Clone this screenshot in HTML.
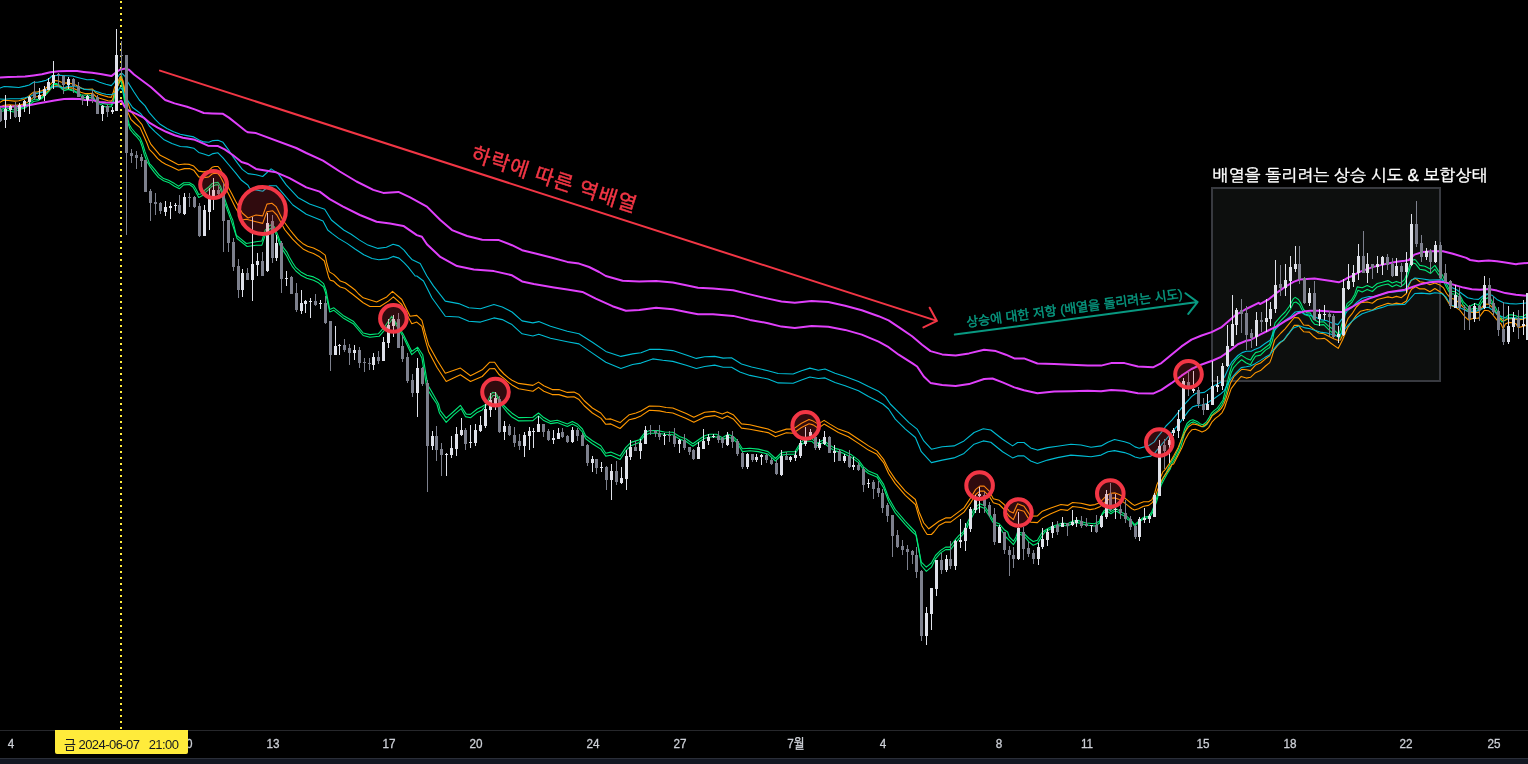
<!DOCTYPE html>
<html lang="ko"><head><meta charset="utf-8"><title>chart</title>
<style>
html,body{margin:0;padding:0;background:#000;}
body{width:1528px;height:764px;overflow:hidden;position:relative;font-family:"Liberation Sans","Noto Sans CJK KR",sans-serif;}
#chart{position:absolute;left:0;top:0;width:1528px;height:764px;display:block;}
.w{fill:#dfe1e9}.g{fill:#7d808d}
.ln{fill:none;stroke-linejoin:round;stroke-linecap:round;}
.circ{fill:rgba(242,54,69,.2);stroke:#f23645;stroke-width:4;}
#axis{position:absolute;left:0;top:730px;width:1528px;height:28px;border-top:1px solid #26272b;box-sizing:border-box;}
#axis span{position:absolute;top:5.5px;width:60px;margin-left:-30px;text-align:center;color:#cdd0d7;font-size:13px;line-height:14px;white-space:nowrap;transform:scaleX(0.9);-webkit-text-stroke:0.3px #cdd0d7;}
#tag{position:absolute;left:55px;top:730px;width:133px;height:24px;background:#ffeb3b;border-radius:0 0 2px 2px;color:#131722;font-size:13px;line-height:14px;white-space:pre;}
#tag b{position:absolute;left:9px;top:7.5px;font-weight:normal;letter-spacing:-0.55px;}
#foot{position:absolute;left:0;top:758px;width:1528px;height:6px;background:#131722;border-top:1px solid #2a2e39;box-sizing:border-box;}
</style></head><body>
<svg id="chart" width="1528" height="764" viewBox="0 0 1528 764">
<rect width="1528" height="764" fill="#000"/>
<rect x="1212" y="188" width="228" height="193" fill="rgba(130,145,140,0.1)" stroke="#383a40" stroke-width="2"/>
<line x1="121" y1="0" x2="121" y2="730" stroke="#ffeb3b" stroke-width="2" stroke-dasharray="2 4" stroke-dashoffset="-1"/>
<path class="ln" d="M0 111.7 L6.7 110 L13.4 112 L20.1 109.2 L25.1 108 L28.5 105.3 L31.4 103.2 L33.5 101.5 L37.7 100.7 L41.9 98.6 L44 96.1 L46.9 93.6 L49.8 90.2 L51.9 86.9 L54 84.4 L56.5 84.4 L59.5 86.5 L62 89 L64 90.7 L68.2 89.4 L72.4 90.7 L76.6 92.8 L80.8 96.1 L84.9 97.8 L89.1 97.4 L93.3 98.2 L95.8 102 L98.3 103.2 L101.7 104.9 L103.8 106.2 L105.9 107 L111.3 106.6 L113 103.2 L114.3 97.8 L115.9 89.8 L118.9 83.5 L121 79.8 L122.3 87.8 L124.8 102.9 L128 123.5 L130.1 129.3 L133.4 133.5 L136.8 136.9 L140.1 141 L142.2 146.9 L144.3 154.5 L146.8 161.2 L148.5 164 L150.2 166.9 L154.3 172.3 L158.5 177.4 L163.6 180.7 L168.6 182.4 L174.5 186.2 L179.5 188.7 L183.7 184.9 L189.5 184.5 L192.9 187 L195.4 191.2 L198.7 197.5 L202.1 195.8 L205.4 192.4 L208.8 189.5 L212.1 186.2 L215.5 184.9 L218 184.9 L220.5 189.5 L222.6 195.4 L224.7 202.9 L228.1 212.1 L230.8 219.4 L237.1 238.5 L247.1 246.5 L256 245.2 L261.9 245.2 L265.2 235.1 L270.2 228.4 L274.4 230.1 L277.8 238.5 L280 245.1 L283.4 250.9 L286.7 256 L289.2 261 L292.6 266.9 L295.9 271 L300.9 275.2 L306.8 278.2 L313.5 280.3 L318.5 282.8 L323.6 287 L325.4 292.2 L329.7 312 L333.9 310.3 L343.1 317.9 L353.2 323.7 L363.2 335.5 L369.9 337.2 L379.1 336.3 L385 329.6 L392.5 318.7 L398.4 328.8 L403.4 337.2 L411.8 354.7 L417.7 349.7 L421.9 358.1 L424.4 373.2 L426.9 388.3 L431.9 396.6 L436.9 404 L439.5 413.2 L446.2 422.4 L453.7 414.9 L461.2 408.7 L465.4 416.6 L470.5 417.7 L477.2 412.4 L482.2 409.9 L487.2 404 L490.6 399.1 L493.1 395.3 L496.4 395.8 L498.9 400.8 L500.6 404 L507.3 412.4 L512 417.1 L518.7 420.9 L532.9 420.6 L538.5 415.9 L543.8 420.6 L550.5 423.6 L557.2 422.6 L567.3 426.5 L572.3 423.9 L577.3 426.5 L582.4 432 L585.7 438.7 L592.4 443.7 L600.8 449.1 L605.8 456.1 L610.8 455.3 L620.1 459.5 L625.9 450.7 L631 445.7 L639.3 442.4 L644.4 435.7 L649.4 433.2 L657.8 433.2 L664.5 434.3 L672.8 434.8 L679.5 439 L686.2 441.5 L692.9 446.2 L699.6 441.5 L704.7 438.2 L709.7 437 L716.4 437 L722.3 439.9 L728.1 437 L733.2 439 L737.3 443.2 L742.4 451.6 L749.9 450.7 L758.3 451.6 L768 454.1 L775.5 461 L781.4 455.1 L788.1 454.3 L794.8 454.3 L800.7 445 L806.5 441.2 L811.6 441.2 L816.6 445.9 L823.3 442.5 L828.3 446.7 L835 450.9 L841.7 452.6 L851.8 457.6 L858.5 462.6 L863.5 469.3 L868.5 473.5 L876.9 476.9 L883.6 487.8 L888.6 501.2 L895.3 512.9 L905.4 524.6 L912.5 532 L916.3 535.4 L918.8 548.8 L921.3 565.5 L926.3 571.4 L931.4 567.2 L935.5 558.8 L940.6 552.9 L945.6 549.6 L950.6 549.6 L954.8 543.7 L959.8 537.9 L964.9 532 L969.9 521.3 L974.9 511.2 L979.9 506.5 L984.1 508.2 L989.2 515.9 L994.2 524.6 L999.2 526.3 L1002.6 532 L1005.9 537 L1009.3 540.4 L1013.4 544.6 L1016 540.4 L1018.5 533.7 L1024 536 L1029 541.9 L1033.2 545.2 L1037.4 543.6 L1042.4 535.5 L1044.9 532 L1049.1 529.7 L1053.3 527.6 L1062.5 525 L1067.6 526 L1072.6 523.3 L1077.6 522.6 L1086 525 L1094.4 526 L1099.4 523.3 L1100.9 517.2 L1103.4 513 L1106.8 510.9 L1110.9 513.8 L1115.1 510.9 L1117.6 511.7 L1121 514.2 L1124.3 515.9 L1126.9 518.8 L1128.5 520 L1131.2 521.3 L1134.6 526.3 L1139.6 521.6 L1141.9 520 L1144.5 518.4 L1149.5 517.6 L1152.8 512.1 L1155.3 505.4 L1157 500.4 L1158.7 493.7 L1161.2 485.3 L1163.7 480.3 L1167.1 474 L1170.4 468.6 L1171.9 464 L1176.1 457 L1180.3 448.6 L1182.8 439.4 L1185.3 431 L1187.8 425.5 L1191.2 422.6 L1193.7 421.9 L1197.9 423.9 L1201.2 426.4 L1203.7 426.8 L1207.1 424.3 L1209.6 420.1 L1212.1 415.1 L1214.6 412.6 L1218 410.1 L1220.5 406.7 L1222.1 404.2 L1224 400.4 L1226.2 393.6 L1229.5 379.4 L1231.2 372.7 L1233.7 367.6 L1237.9 363 L1241.7 359.7 L1246.3 363 L1250.5 364.7 L1253 360.1 L1255.5 356.3 L1260.5 355.1 L1265.5 350.1 L1269.7 347.5 L1272.4 340.8 L1274.2 331.3 L1276.8 325.4 L1281.8 319.6 L1286 315.4 L1290.2 309.5 L1293.5 302.8 L1296 302 L1299.4 304.5 L1301.9 309.5 L1304.4 314.5 L1309.4 316.2 L1311.9 321.2 L1314.5 324.2 L1318.6 325 L1323.7 324.6 L1328.7 329.6 L1333.7 333.8 L1337.1 336.3 L1339.6 338 L1341.7 331.3 L1343.8 322.9 L1346.3 307.8 L1348.8 305.3 L1352.1 302 L1355.5 296.1 L1358 290.2 L1362.2 291.9 L1367.2 289.4 L1372.3 291.5 L1377.3 286.9 L1382.3 285.2 L1388 284 L1392.2 286.8 L1396.4 284.7 L1400.6 286.8 L1404.8 283.5 L1408.1 274.2 L1410.6 266.7 L1413.1 262.9 L1415.6 263.8 L1419.8 269.2 L1424.9 270.1 L1430.7 273.4 L1434.9 269.2 L1438.3 274.2 L1442.5 279.3 L1446.6 287.6 L1450 293.5 L1455 294.3 L1460 297.7 L1463.4 305.2 L1468.4 310.3 L1471.8 309 L1475.1 307.7 L1478.5 309.4 L1481 303.6 L1484.3 299.4 L1487.7 297.7 L1491 302.7 L1495.2 310.3 L1498.6 317 L1501.9 322 L1505.3 320.3 L1508.6 317.8 L1512 317.8 L1516 318.6 L1518.3 319.9 L1523.3 318.7 L1528 316.2" stroke="#00e676" stroke-width="1.1"/>
<path class="ln" d="M0 109.6 L6.7 107.9 L13.4 110 L20.1 107.1 L23.5 108 L26 105.3 L29.3 103.2 L31.8 100.7 L34.3 99 L37.7 99.5 L39.8 98.6 L42.7 96.5 L46.1 93.6 L49 90.2 L51.5 86.1 L53.6 83.5 L56.5 83.5 L59.5 85.2 L62 87.7 L64 89 L66.5 88.8 L70.3 89.4 L74.5 90.7 L77.8 92.8 L80.8 94.8 L84.1 95.3 L87.5 94.8 L91.2 95.7 L93.3 96.9 L95.8 101.1 L99.6 102.4 L103.8 103.6 L108 104.5 L111.3 104.9 L112.6 102.8 L113.8 96.9 L115.5 88.6 L118.5 82.3 L120.5 78.5 L121.8 76 L124.8 99.6 L128 119.3 L129.2 124.3 L131.7 128.5 L135.9 133.5 L140.1 137.7 L142.6 143.6 L145.1 151.9 L147.6 158.6 L149.7 164 L151 165.2 L155.2 170.2 L159.4 175.3 L163.6 178.6 L168.6 180.3 L174.5 183.6 L178.6 186.2 L183.7 182.8 L189.5 182.8 L193.7 185.3 L196.2 189.5 L198.7 194.5 L201.3 193.7 L204.6 190.3 L208.8 187 L212.1 183.6 L214.7 182.8 L218 182.4 L220.5 186.2 L223 192.9 L225.5 201.2 L228.9 210.5 L231.4 217.2 L232.7 220 L236.2 235.1 L246.3 243.5 L256 241.8 L261.9 241 L265.2 230.1 L270.2 225.1 L274.4 226.7 L277.8 235.1 L280 240.9 L283.4 247.6 L286.7 251.8 L289.2 256.8 L292.6 262.7 L295.9 267.7 L300.9 271.9 L306.8 275.2 L313.5 276.9 L318.5 279.4 L323.6 283.6 L326.1 290.5 L329.7 309.5 L333.9 307.8 L343.1 315.4 L353.2 321.2 L363.2 333 L369.9 334.6 L378.3 333.8 L385 326.3 L391.7 316.2 L398.4 326.3 L403.4 334.6 L411.8 351.4 L417.7 347.2 L422.7 354.7 L425.2 369.8 L427.7 384.9 L433.6 395 L438.6 404 L440.3 410.7 L446.2 418.2 L453.7 411.5 L460.4 405.3 L466.3 414.1 L470.5 414.4 L477.2 409 L482.2 406.5 L486.4 404 L489.7 396.6 L492.6 392.4 L495.6 392.9 L498.9 398.3 L502.3 404 L507.3 409 L512 413.2 L518.7 417.6 L532.9 417.2 L538.5 413 L543.8 417.6 L550.5 421.4 L557.2 420.3 L567.3 423.9 L572.3 421.4 L577.3 423.9 L582.4 429 L585.7 435.7 L592.4 440.7 L600.8 445.7 L605.8 453.3 L610.8 452.1 L620.1 456.1 L625.9 447.4 L631 442.4 L639.3 439.9 L644.4 433.2 L649.4 430.6 L657.8 430.6 L664.5 432 L672.8 432.3 L679.5 436.5 L686.2 439 L692.9 443.7 L699.6 439 L704.7 435.7 L709.7 434.3 L716.4 434.3 L722.3 437.7 L728.1 434.3 L733.2 436.5 L737.3 440.7 L742.4 448.7 L749.9 448.2 L758.3 449.1 L768 451.6 L775.5 458.5 L781.4 452.6 L788.1 451.7 L794.8 451.7 L800.7 442.5 L806.5 438.3 L811.6 438.3 L816.6 443.4 L823.3 440 L828.3 444.2 L835 448.4 L841.7 450.1 L851.8 455.1 L858.5 460.1 L863.5 466.8 L868.5 471 L876.9 474.4 L883.6 484.4 L888.6 497.8 L895.3 509.5 L905.4 521.3 L915.4 532 L917.9 545.4 L921.3 562.2 L926.3 567.2 L931.4 563 L935.5 555.5 L940.6 550.4 L945.6 547.1 L949.8 547.1 L954 541.2 L959 535.4 L963.2 532 L969 519.6 L974.1 508.7 L979.9 503.7 L984.1 505.4 L989.2 512.9 L994.2 522.1 L999.2 523.8 L1004.2 529.7 L1007.6 532 L1009.3 537 L1013.4 541.2 L1016 537 L1017.6 532 L1024 533.5 L1029 538.5 L1033.2 541.5 L1037.4 540.2 L1042.4 532 L1047.5 528.8 L1052.5 526.3 L1062.5 523 L1067.6 523.8 L1072.6 521.3 L1077.6 520.4 L1086 523 L1094.4 523.8 L1099.4 521.3 L1101.7 514.6 L1104.2 510.5 L1107.6 508.8 L1110.9 511.7 L1115.1 508.8 L1117.6 509.6 L1121 512.1 L1124.3 513.8 L1127.7 517.2 L1130.7 519.8 L1134.6 524.6 L1140.3 520 L1143.6 517.2 L1148.6 516.3 L1152 511.3 L1154.5 504.6 L1156.2 499.6 L1157.9 492.9 L1160.4 484.5 L1162.9 478.6 L1166.2 472.8 L1170.2 464 L1174.4 457 L1178.6 448.6 L1181.9 437.7 L1184.5 429.3 L1187 423.5 L1190.3 420.5 L1192.8 419.7 L1197 421.4 L1200.4 423.9 L1202.9 424.7 L1206.2 422.2 L1208.7 418.4 L1211.3 413.4 L1213.8 410.9 L1217.1 408.4 L1219.6 405 L1221.3 402.5 L1223 400 L1224.5 393.6 L1227.8 380.2 L1229.5 373.5 L1232 365.1 L1236.2 359.3 L1241.2 355.1 L1246.3 358.4 L1250.5 360.1 L1253 355.9 L1255.5 352.6 L1260.5 351.3 L1264.7 348 L1269.7 344.2 L1272 335.6 L1275.1 322.9 L1280.9 316.2 L1285.1 312 L1289.3 306.2 L1293.5 298.6 L1295.2 297.4 L1298.5 299.5 L1301 303.6 L1303.6 309.5 L1306.9 312.9 L1310.3 312.9 L1313.6 319.6 L1318.6 322.1 L1323.7 321.7 L1328.7 326.3 L1333.7 329.6 L1337.1 333 L1338.7 334.6 L1340.4 329.6 L1342.1 322.9 L1344.6 311.2 L1347.1 303.6 L1351.3 300.3 L1354.7 294.4 L1357.2 286.9 L1362.2 287.7 L1367.2 285.6 L1372.3 287.7 L1377.3 283.5 L1382.3 282.3 L1388 280.6 L1392.2 283 L1396.4 281.4 L1400.6 283 L1404.8 279.3 L1408.1 270.1 L1410.6 262.5 L1413.1 260 L1414.4 259.6 L1415.6 260 L1419.8 265.4 L1424.9 266.3 L1430.7 269.2 L1434.9 265.4 L1438.3 270.9 L1442.5 275.1 L1446.6 284.3 L1450 291 L1455 291.8 L1460 295.2 L1463.4 301.9 L1468.4 306.9 L1471.8 305.2 L1475.1 303.6 L1478.5 305.2 L1481 300.2 L1484.3 296 L1487.7 294.3 L1491 299.4 L1495.2 306.9 L1498.6 313.6 L1501.9 318.6 L1505.3 317.8 L1508.6 314.9 L1512 314.9 L1516 315.7 L1518.3 317 L1523.3 316.2 L1528 312.9" stroke="#00e676" stroke-width="1.1"/>
<path class="ln" d="M0 107 L4.2 105.3 L9.6 104.9 L14.7 105.3 L20.9 104.9 L24.3 103.6 L27.2 102.4 L29.3 101.1 L31.8 98.6 L34.3 96.9 L37.7 96.5 L41.9 95.3 L45.2 93.2 L48.2 90.7 L51.1 88.1 L53.6 86.3 L56.5 85.8 L60.7 86.7 L64 88.1 L68.2 87.5 L72.4 88.1 L76.6 89.8 L80.8 92.3 L84.9 93.6 L89.1 93.6 L92.5 93.2 L95.8 96.5 L99.6 98.2 L103.8 99.5 L108 100.7 L111.3 101.1 L112.6 99.5 L113.8 95.3 L115.1 90.7 L118.5 84.4 L121 78.1 L123.1 83.2 L124.8 91.6 L128 112.6 L130.9 119.3 L135.1 123.5 L140.1 127.6 L143.5 135.2 L146.8 142.7 L149.3 149.4 L153.5 153.6 L157.7 158.6 L161.9 162 L165.7 164.2 L171.9 166.9 L178.6 170.2 L184.5 168.6 L189.5 168.6 L193.7 170.2 L198.7 176.9 L203.8 177.8 L208.8 176.9 L212.1 174 L214.7 173.2 L218 173.6 L220.5 176.9 L223.9 183.6 L227.2 191.2 L231.4 199.6 L235.6 207.9 L239 213.8 L241.5 220 L246.3 219.2 L256 221.7 L262.7 223.4 L266.9 211.7 L272.8 210.8 L276.9 215 L283.6 227.6 L285 230 L288.4 234.2 L292.6 239.2 L297.6 244.2 L303.5 249.3 L308.5 251.8 L313.5 253.5 L319.4 256.8 L324.4 261 L326.1 267.7 L328.6 276.9 L330.3 280.3 L333.6 281.1 L337 284.5 L340.3 287 L345.3 288.6 L349.5 292 L352.6 294.2 L363.2 302.8 L369.9 306.5 L380 306.5 L388.4 301.1 L393.4 296.9 L401.8 304.5 L406.8 314.5 L411.8 323.7 L416.8 322.1 L421.9 326.3 L425.2 339.7 L428.6 351.4 L436.9 367.3 L446.2 381.5 L460.4 374.8 L470.5 381.5 L482.2 376.5 L489.5 368.8 L494.6 368.5 L499.3 374.8 L504 378.4 L508.6 382.4 L512 384.9 L518.7 388.8 L532.9 391.3 L538.5 387.4 L543.8 391.3 L552.2 394.6 L558.9 394.6 L567.3 397.1 L574 396.8 L579 399.6 L584 405.5 L592.4 413 L600.8 418.1 L605.8 424.3 L610.8 423.9 L620.1 428.5 L629.3 419.7 L636 418.1 L641 415.9 L649.4 410.2 L659.4 410.9 L666.1 412.2 L672.8 413 L686.2 418.6 L693.8 422.3 L704.7 416.9 L714.7 415.6 L722.3 418.6 L727.3 415.9 L733.2 418.9 L741.5 428.1 L749.9 429.3 L768 432.6 L775.5 436.7 L786.4 432.8 L793.1 433.3 L801.5 427.5 L809 423.8 L813.2 424.9 L818.3 428.3 L824.1 424.1 L830 427.5 L838.4 432.5 L848.4 436.7 L858.5 443.4 L868.5 450.1 L876.9 454.3 L883.6 462.6 L888.6 473.5 L895.3 483.6 L905.4 495.3 L915.4 504.5 L918.8 516.3 L922.1 526.3 L925.5 532 L927.2 534.5 L931.4 534.5 L933.9 532 L938.9 525.5 L945.6 522.1 L950.6 522.1 L957.3 517.1 L964 512.1 L970.7 502.8 L975.7 494.5 L979.9 491.1 L984.1 491.1 L989.2 496.1 L993.3 502.8 L999.2 504.5 L1004.2 509.5 L1009.3 516.3 L1013.4 519.6 L1017.6 509.5 L1024 511.2 L1030.7 522.1 L1037.4 522.6 L1042.4 517.9 L1050.8 513.7 L1060.9 509.5 L1067.6 510.4 L1072.6 506.5 L1081 507.5 L1090 509.6 L1095 508.8 L1099.2 507.1 L1102.6 504.6 L1106.8 500.4 L1110.9 498.3 L1115.1 497.9 L1119.3 499.6 L1123.5 502.1 L1127.7 505.4 L1131.9 508.8 L1134.4 510 L1138.6 508.8 L1143.6 506.3 L1148.6 505.4 L1152 502.9 L1154.5 498.7 L1157 491.2 L1159.5 485.3 L1162 479.5 L1165.4 474.4 L1168.7 469.4 L1172.1 464.4 L1173.6 464 L1177.7 456.1 L1181.9 447.7 L1185.3 439.4 L1188.6 433.5 L1192 429.7 L1195.3 429.3 L1198.7 430.6 L1202 432 L1205.4 430.6 L1208.7 427.6 L1212.1 421.8 L1215.4 418.4 L1218.8 415.9 L1222.1 412.6 L1224.7 407.5 L1226.3 402.5 L1228.1 397.6 L1231.2 388.6 L1236.2 381.9 L1241.2 376.4 L1246.3 378.1 L1250.5 377.3 L1255.5 372.7 L1260.5 370.6 L1265.5 366 L1269.7 362.6 L1271.4 358.4 L1273.9 350.1 L1277.3 345.9 L1281.4 341.7 L1284 340 L1289.3 333 L1294.3 325.4 L1298.5 325.4 L1301 328.8 L1303.6 331.7 L1309.4 332.1 L1313.6 336.3 L1317 338.8 L1320.3 338.8 L1324.5 338.4 L1327 340 L1330.6 343 L1338.2 348.4 L1342.5 340 L1345.4 333 L1348 327.1 L1352.1 321.2 L1356.3 315.4 L1360.5 311.2 L1367.2 309.5 L1372.3 310.3 L1377.3 307 L1382.3 305.3 L1388 303.2 L1392.2 304.4 L1396.4 303.1 L1401.4 304 L1406.4 301 L1408.9 294.3 L1411.5 289.3 L1415.6 286.8 L1419.8 288.9 L1424.9 288.9 L1429.9 291.8 L1434.9 288.5 L1439.9 291.8 L1443.3 294.3 L1446.6 299.4 L1450 305.2 L1455 306.9 L1460 310.3 L1465.1 317 L1468.4 319.9 L1473.4 318.2 L1478.5 318.2 L1481.8 313.6 L1484.3 310.3 L1488.5 310.7 L1491.9 313.6 L1495.2 317.8 L1498.6 322 L1501.1 324 L1503.2 328.8 L1505.3 324 L1508.6 322.4 L1512 322.8 L1516 323.7 L1518.3 327.6 L1523.3 326.3 L1528 324.6" stroke="#ff9800" stroke-width="1.1"/>
<path class="ln" d="M0 102.4 L3.4 100.3 L8.4 100.5 L14.7 101.1 L18.8 100.7 L23.5 99.5 L27.2 97.4 L30.2 94.8 L33.5 92.1 L37.7 91.9 L41.9 90.7 L45.2 88.6 L47.7 86.5 L50.3 84.4 L52.4 82.3 L55.3 80.6 L58.6 81 L61.6 82.3 L64 83.1 L66.5 82.9 L71.1 83.5 L75.7 85 L80.8 87.7 L84.9 89.4 L89.1 89.4 L92.5 89 L95.8 92.8 L99.6 94.4 L103.8 95.7 L108 96.9 L111.3 97.4 L113.1 92.8 L114.7 86.9 L118.5 80.2 L120.5 76 L123.1 81.1 L124.8 89.5 L128.4 104.2 L130.9 111.7 L136.8 118.4 L141.8 124.3 L145.1 131.8 L148.5 139.4 L151 144.4 L156 150.3 L160.2 155.3 L165.2 157.8 L171.9 161.2 L177 164 L178.6 164.8 L184.5 164 L189.5 164.4 L193.7 166.1 L198.7 171.1 L203.8 171.9 L208.8 170.7 L212.1 167.3 L214.7 166.5 L218 166.5 L220.5 169.4 L223.9 176.9 L227.2 185.3 L231.4 192.9 L235.6 201.2 L239 207.1 L242.3 213 L248 218 L256 215 L262.7 215.9 L266.9 204.1 L271.9 203.3 L276.1 206.6 L282.8 220 L290.1 230 L293.4 234.2 L297.6 239.2 L302.6 243.4 L307.6 246.3 L313.5 248 L319.4 250.9 L325.2 255.1 L326.9 263.5 L329.4 271.9 L333.6 274.4 L337 277.7 L340.3 281.1 L345.3 282.8 L351.2 287 L355.4 290.3 L358.7 294 L363.2 297.8 L376.6 302 L386.7 296.9 L392.5 291.4 L401.8 299.5 L410.1 316.2 L416.8 315.4 L421.9 320.4 L425.2 333 L428.6 344.7 L436.9 359.8 L445.3 373.2 L460.4 368.1 L470.5 375.7 L482.2 369.8 L489.5 362.3 L494.6 362.3 L499.3 369 L504 374 L508.6 377.9 L512 380.2 L518.7 383.4 L532.9 385.4 L538.5 382.1 L543.8 385.7 L552.2 389.6 L558.9 389.6 L567.3 392.4 L574 392.1 L579 394.6 L584 400.5 L592.4 408 L600.8 413 L605.8 419.2 L610.8 418.9 L620.1 422.6 L629.3 414.7 L636 413 L641 410.9 L649.4 406 L659.4 406.3 L666.1 407.5 L672.8 408 L686.2 413.5 L693.8 417.2 L704.7 412.2 L714.7 411.4 L722.3 413.9 L727.3 411.9 L733.2 414.7 L741.5 423.9 L749.9 424.8 L768 429 L775.5 432.5 L786.4 429.1 L793.1 429.1 L801.5 423.3 L809 419.4 L813.2 421.1 L818.3 424.1 L824.1 420.4 L830 424.1 L838.4 429.1 L848.4 432.5 L858.5 439.2 L868.5 445.9 L876.9 450.9 L883.6 459.3 L888.6 469.3 L895.3 479.4 L905.4 491.1 L915.4 499.5 L918.8 511.2 L923.8 523 L928.8 528.8 L932.2 526.3 L938.9 521.3 L945.6 517.9 L950.6 517.9 L957.3 512.9 L964 507.9 L970.7 497.8 L975.7 489.4 L979.9 486.1 L984.1 486.1 L989.2 491.1 L993.3 498.7 L999.2 500.3 L1004.2 504.5 L1009.3 511.2 L1013.4 512.9 L1017.6 503.7 L1024 506.2 L1030.7 516.3 L1037.4 515.9 L1042.4 511.2 L1050.8 507.9 L1060.9 504.5 L1067.6 505.4 L1072.6 502.5 L1081 503.2 L1090 505.4 L1095 504.6 L1099.2 502.9 L1102.6 499.6 L1106.8 495.4 L1110.9 493.3 L1115.1 492.9 L1119.3 494.5 L1123.5 497 L1127.7 500.4 L1131.9 503.7 L1134.4 505.4 L1138.6 503.7 L1143.6 501.7 L1148.6 501.7 L1152 499.6 L1154.5 493.7 L1157 484.5 L1160.4 477.8 L1162.9 471.9 L1165.4 469.4 L1169 464 L1173.6 456.1 L1177.7 448.6 L1181.1 440.2 L1184.5 432.7 L1188.6 426.8 L1192.8 423.9 L1197 424.7 L1202 426.8 L1206.2 424.3 L1209.6 420.1 L1212.1 415.9 L1215.4 413.4 L1218.8 410.9 L1221.3 408.4 L1223.8 404.2 L1225.5 400 L1227 395.3 L1230.3 383.6 L1233.7 376.9 L1237.9 372.7 L1241.7 369.3 L1246.3 369.7 L1250.5 370.6 L1255.5 365.1 L1260.5 363 L1265.5 358.8 L1269.7 355.9 L1272.2 349.2 L1274.7 340 L1280.9 333 L1285.1 328.8 L1289.3 323.7 L1294.3 317.5 L1298.5 317.9 L1301 321.2 L1303.6 325 L1308.6 325.4 L1311.9 327.9 L1315.3 330.5 L1318.6 333 L1323.7 333.8 L1328.7 336.3 L1333.7 338.8 L1337.6 340.3 L1340.4 340 L1342.9 334.6 L1345.4 325.4 L1348 318.7 L1352.1 313.7 L1356.3 307 L1360.5 302.8 L1367.2 302 L1372.3 303.2 L1377.3 299.5 L1382.3 298.2 L1388 296.9 L1392.2 297.7 L1396.4 296.4 L1401.4 297.7 L1406.4 293.5 L1408.9 285.1 L1411.5 280.1 L1415.6 278.4 L1419.8 281.8 L1424.9 282.6 L1429.9 284.7 L1434.9 283 L1439.9 285.1 L1443.3 287.6 L1446.6 293.5 L1450 297.7 L1455 299.4 L1460 303.6 L1465.1 309.4 L1468.4 311.9 L1473.4 312.4 L1478.5 312.4 L1481.8 307.7 L1484.3 304.4 L1488.5 304 L1491.9 306.9 L1495.2 311.9 L1498.6 317 L1502.8 320.7 L1505.3 319.9 L1508.6 318.6 L1512 318.6 L1516 319.1 L1518.3 319.9 L1523.3 319.2 L1528 316.2" stroke="#ff9800" stroke-width="1.1"/>
<path class="ln" d="M0 99 L4.2 99.2 L10.5 98.8 L16.8 98.8 L20.9 98.6 L25.1 97.8 L28.5 96.9 L31.4 95.7 L35.6 93.6 L39.8 92.8 L43.1 91.9 L46.1 90.2 L49.4 88.6 L52.4 87.1 L56.5 86.5 L60.7 87.3 L64 88.1 L68.2 86.1 L72.4 86.5 L76.6 86.7 L80.8 88.1 L84.9 89.4 L89.1 89.8 L93.3 90.2 L97.5 91.9 L101.7 93.2 L105.9 94.2 L111.3 94.8 L114.3 93.6 L118 90.7 L120.1 87.3 L122.3 89.5 L124.8 95.4 L127.9 100.6 L132.6 107.5 L140.9 113.8 L145.1 119.3 L149.3 126 L155.2 131.8 L163.6 139.4 L171.9 143.6 L180.3 146.5 L187 146.9 L193.7 148.2 L198.7 152.4 L203.8 154 L208.8 155.7 L213 153.6 L218 152.8 L223 157.8 L228.1 164 L235.6 172.8 L241.5 180.3 L248 185.3 L249.6 188.2 L256 189.9 L262.7 191.2 L269.4 185.7 L276.1 185.7 L282.8 193.2 L292.9 205 L306.3 214.2 L323 220.9 L327.7 230 L331.9 233.4 L338.6 238.4 L347 243.4 L355.4 249.3 L363.8 254.7 L372.1 258.5 L378.8 259.7 L387.2 258.9 L393.1 256.4 L399 258.1 L404 262.7 L408 266.9 L415.2 276 L416.8 276 L423.5 281 L431.9 297.8 L445.3 316.2 L458.7 317 L468.8 321.2 L480.5 322.1 L493.9 317.9 L502.3 319.6 L512 324.6 L522.1 333.8 L532.9 336 L538.8 334.3 L550.5 338.3 L567.3 341.7 L579 343.9 L592.4 353.1 L605.8 362.3 L620.9 368.5 L632.6 364.5 L641 363.1 L652.7 358.9 L662.8 360.3 L672.8 361.4 L686.2 365.3 L696.3 368.5 L704.7 366.5 L714.7 365.1 L723.1 367.3 L731.5 367.3 L739.9 372 L749.9 375.4 L768 379 L778.1 382.9 L793.1 383.2 L801.5 379.9 L809.9 377 L818.3 378.5 L825 377.9 L835 382.4 L845.1 385.7 L858.5 390.8 L868.5 396.6 L876.9 400.8 L882.8 404 L888.6 409 L895.3 419.1 L905.4 429.1 L915.4 437.5 L921.3 451.7 L931.4 462.6 L942.2 460.1 L954 457.9 L964 453.4 L974.1 444.2 L983.3 440.9 L990.8 442.2 L1002.6 451.7 L1012.6 457.9 L1017.6 455.9 L1024 455.9 L1030.7 461 L1037.4 463.5 L1047.5 460.1 L1057.5 457.6 L1070.9 455.1 L1081 455.9 L1091 456.8 L1101.1 455.1 L1107.8 451.7 L1114.5 450.6 L1124.5 452.6 L1130 454.5 L1135 457 L1140.1 458.2 L1145.1 457 L1150.9 456.1 L1154.3 453.6 L1157.6 449.4 L1161.8 444.4 L1166 439.4 L1170.2 434.3 L1174.4 429.3 L1178.6 424.3 L1183.6 417.6 L1188.6 410.9 L1192.8 406.7 L1197 405.4 L1202 405 L1207.1 403.4 L1210.4 400.8 L1212.1 400 L1221.1 393.6 L1224.5 390.3 L1227.8 383.6 L1231.2 378.5 L1236.2 372.7 L1241.2 367.6 L1246.3 366.8 L1250.5 366 L1254.6 363.9 L1259.7 360.9 L1264.7 357.6 L1269.7 354.7 L1273.1 350.1 L1276.4 345.9 L1279.8 342.5 L1283.5 340.2 L1287.6 334.6 L1293.5 327.9 L1299.4 325.8 L1305.2 327.9 L1310.3 328.8 L1315.3 330.5 L1320.3 332.1 L1327 333 L1332 334.6 L1337.9 336.3 L1340.4 334.6 L1343.8 330.5 L1347.1 326.3 L1352.1 321.2 L1357.2 317 L1362.2 313.7 L1368.9 311.6 L1377.3 308.7 L1382.3 307.4 L1388 305.3 L1396.4 304.8 L1404.8 304.4 L1408.9 300.2 L1414.8 293.5 L1421.5 293.1 L1429.9 293.9 L1434.9 292.7 L1441.6 293.5 L1445.8 296.9 L1448.3 301 L1451.7 305.2 L1456.7 306.9 L1461.7 308.6 L1466.7 311.1 L1471.8 311.1 L1476.8 311.1 L1481 309.4 L1484.3 307.7 L1488.5 307.3 L1492.7 310.3 L1496.9 313.6 L1500.3 316.1 L1505.3 317.8 L1509.5 318.2 L1516 317.8 L1518.3 318.7 L1528 317" stroke="#00bcd4" stroke-width="1.1"/>
<path class="ln" d="M0 88.1 L4.2 86.5 L10.5 86.9 L18.8 87.5 L25.1 86.1 L29.3 85 L33.5 82.3 L37.7 82.3 L41.9 81.4 L46.1 80.2 L49.4 78.5 L51.9 76 L58.6 75.3 L67 75.7 L72.4 76 L78.7 77.7 L87 79.8 L93.3 79.6 L99.6 82.3 L105.9 84.2 L111.3 85.6 L114.3 82.3 L116.4 78.5 L118.5 76 L119.8 74 L122.3 73.6 L124.8 76.1 L127.3 81.2 L134 92 L139.3 100 L145.1 105.9 L149.3 112.6 L155.2 119.3 L160.2 124.3 L166.9 128.5 L173.6 131.8 L180.3 134.3 L187 135.6 L193.7 136.9 L199.6 140.2 L203.8 141.9 L208.8 142.3 L213 140.6 L218 140.2 L223 142.3 L228.9 150.3 L233.1 157 L237.7 163.4 L242.3 169.4 L248 173.6 L256 174.8 L262.7 176.5 L271.1 168.9 L277.8 173.1 L286.2 184.9 L297.9 197.4 L309.6 204.1 L324.7 209.2 L331.4 220 L343.7 230 L351.2 234.2 L359.6 240.1 L368 245.1 L378 248.4 L386.4 247.2 L393.1 244.2 L399 245.9 L404 250.1 L408 255.1 L411.8 259.4 L420.2 263.6 L426.9 276 L433.6 286.1 L445.3 301.1 L458.7 303.6 L468.8 307.8 L480.5 308.7 L493.9 304.5 L502.3 307 L512 312 L522.1 320.9 L532.9 322.9 L538.8 321.6 L550.5 326.3 L567.3 331.3 L579 333.8 L592.4 342.2 L605.8 351.4 L620.9 356.4 L632.6 353.9 L641 352.7 L649.4 349.4 L659.4 349.2 L672.8 350.6 L686.2 355.1 L696.3 358.4 L704.7 356.8 L714.7 356.4 L723.1 358.1 L731.5 357.8 L741.5 364 L751.6 367 L768 370.7 L778.1 373.5 L793.1 374 L801.5 370.7 L809.9 368.1 L818.3 370.2 L825 369 L835 373.2 L845.1 376.5 L858.5 381.5 L868.5 386.6 L878.6 391.3 L885.3 396.6 L890.3 404 L898.7 412.4 L908.7 422.4 L917.1 429.1 L923.8 440.9 L931.4 449.2 L942.2 446.7 L954 445.9 L964 440.9 L974.1 432.5 L983.3 428.8 L990.8 430 L1002.6 439.2 L1012.6 445.9 L1017.6 442.5 L1024 442.5 L1030.7 447.9 L1037.4 450.1 L1047.5 447.6 L1057.5 446.2 L1070.9 444.2 L1081 445 L1091 447.2 L1101.1 445.9 L1107.8 442.2 L1114.5 439.5 L1124.5 441.7 L1130 443.6 L1135 446.9 L1139.2 448.2 L1144.2 446.9 L1149.3 445.2 L1154.3 441.9 L1157.6 436.9 L1161.8 431.8 L1166 426 L1171.9 420.1 L1176.9 414.2 L1181.9 407.5 L1187 401.7 L1188.6 400 L1191.5 396.6 L1196 393.2 L1204.4 392.4 L1208.6 389.4 L1212.8 386.5 L1221.1 381.9 L1224.5 376.9 L1229.5 366 L1232 361.8 L1237.9 355.5 L1242.1 352.6 L1246.3 351.3 L1251.3 351.3 L1254.6 349.6 L1259.7 347.5 L1264.7 343.8 L1270.1 340.2 L1275.1 329.6 L1280.9 323.7 L1285.1 320.4 L1291 316.2 L1295.2 312 L1300.2 311.2 L1303.6 313.7 L1310.3 315.4 L1315.3 317 L1320.3 319.6 L1327 320.8 L1332 322.9 L1337.9 324.6 L1340.4 321.2 L1342.9 317.9 L1347.1 311.2 L1352.1 307 L1357.2 302 L1362.2 298.2 L1368.9 296.5 L1373.1 296.9 L1388 292.5 L1396.4 291.7 L1404.8 290.6 L1407.3 286.8 L1410.6 280.9 L1414.8 278 L1421.5 278.8 L1429.9 280.1 L1438.3 279.7 L1442.5 280.1 L1446.6 282.6 L1451.7 287.6 L1456.7 289.7 L1461.7 293.5 L1467.6 297.7 L1473.4 299 L1478.5 299.4 L1482.7 296 L1486.8 293.9 L1491.9 295.2 L1496.9 299.4 L1503.6 302.7 L1509.5 303.6 L1516 304 L1528 302.8" stroke="#00bcd4" stroke-width="1.1"/>
<path class="ln" d="M0 106.8 L12.6 106.6 L20.9 106.2 L29.3 105.3 L37.7 103.6 L46.1 102 L54.5 100.5 L64 99 L72.4 98.8 L79.9 99 L84.9 99.9 L93.3 100.3 L99.6 102 L105.9 102.6 L114.3 102.8 L118.5 102 L121.4 100.7 L124.7 106.7 L128.4 110.5 L136.8 114.2 L143.5 117.6 L149.3 122.6 L157.7 127.6 L166.1 131.8 L174.5 135.2 L182.8 137.7 L193.7 139.4 L199.6 141.9 L208 145.7 L218 146.1 L224.7 149.4 L233.1 155.3 L241.5 162 L248 164 L256 168.9 L276.1 172.3 L289.5 178.2 L306.3 187.4 L319.7 191.6 L329.7 199.1 L343.1 206.6 L359.9 215 L376.6 221.7 L390 223.4 L403.4 225.9 L416.8 235.1 L421.9 236.8 L426.9 244.3 L440.3 256.9 L457 266.1 L473.8 269.5 L493.9 271.1 L512 275.3 L522.1 281.4 L533.8 284 L553.9 287.4 L567.3 289.4 L582.4 291.9 L595.8 298.6 L612.5 306.2 L625.9 310.8 L639.3 310 L656.1 307.8 L672.8 309.2 L686.2 312 L698 314.2 L713 314.2 L733.2 315.9 L749.9 319.9 L768 323.2 L781.4 326.6 L794.8 327.9 L811.6 325.9 L828.3 326.8 L845.1 329.9 L861.8 334.6 L878.6 341.7 L888.6 347.2 L898.7 354.7 L912.1 363.1 L917.1 366.5 L923.8 376.5 L930.5 382.9 L942.2 384.9 L955.6 386.1 L969 384.1 L984.1 379 L992.5 378.5 L1002.6 382.4 L1014.3 387.4 L1024 390.3 L1037.4 393.3 L1054.2 391.6 L1070.9 391.3 L1087.7 390.8 L1101.1 391.3 L1111.1 389.9 L1124.5 390.8 L1137.9 393.3 L1153 393.6 L1161.4 389.9 L1171.4 383.2 L1181.5 375.7 L1191.5 369 L1201 364.7 L1212.8 360.5 L1221.1 356.8 L1229.5 350.9 L1237.9 344.2 L1246.3 340.8 L1250.5 340 L1258.6 335.5 L1260 334.6 L1268.4 330.5 L1276.8 326.3 L1285.1 321.2 L1291 317.9 L1297.7 313.3 L1303.6 311.6 L1310.3 310.8 L1318.6 310.8 L1327 311.2 L1335.4 312 L1342.1 312 L1347.1 309.5 L1352.1 307 L1360.5 302 L1368.9 298.6 L1377.3 295.7 L1388 292.3 L1396.4 291 L1404.8 289.7 L1413.1 286.8 L1421.5 283.9 L1429.9 282.2 L1438.3 281.4 L1446.6 282.6 L1455 285.1 L1463.4 287.6 L1471.8 289.3 L1480.1 289.7 L1488.5 288.9 L1496.9 290.6 L1505.3 293.1 L1516 294.8 L1528 295.8" stroke="#e040fb" stroke-width="2"/>
<path class="ln" d="M0 77.6 L8.4 76.9 L16.8 76.8 L25.1 76.5 L33.5 75.4 L41.9 74.3 L50.3 72.3 L58.6 71.2 L67 70.9 L77.1 71.1 L83.8 71.9 L92.1 72.8 L100.5 74 L111.4 76.1 L115.6 72.8 L119.8 69.8 L124.8 68.6 L129 69.8 L134 74.5 L150.8 87 L165.2 100 L174.5 103.4 L187 106.7 L195.4 109.6 L203.8 113 L212.1 113.4 L223 113.8 L228.9 117.6 L237.3 124.3 L245.7 131 L248 132.3 L256 133.1 L296.2 148 L306.3 153 L323 160.6 L339.8 171.5 L356.5 181.5 L373.3 189.9 L383.3 192.9 L398.4 191.9 L410.1 197.4 L426.9 206.6 L440.3 220 L452 230.1 L467.1 236 L482.2 239.8 L498.9 240.1 L512 245.2 L522.1 250.2 L535.5 253.5 L552.2 257.7 L567.3 261.9 L579 263.6 L589.1 267 L599.1 272 L605.8 276 L622.6 280.7 L639.3 281.4 L656.1 281 L672.8 282.4 L686.2 285.2 L698 287.7 L713 288.6 L733.2 290.2 L749.9 294.4 L768 298.6 L781.4 301.5 L794.8 302.8 L811.6 301.1 L828.3 302 L845.1 305.8 L861.8 310.3 L878.6 316.2 L888.6 320.4 L898.7 327.1 L912.1 336.3 L922.1 344.7 L930.5 351.1 L942.2 354.4 L955.6 355.6 L969 353.4 L984.1 349.7 L995.9 351.1 L1005.9 354.7 L1014.3 358.4 L1024 358.4 L1037.4 363.5 L1054.2 364 L1070.9 364.8 L1087.7 365.6 L1101.1 365.6 L1111.1 363.1 L1124.5 363.1 L1137.9 366.5 L1153 367.3 L1161.4 363.1 L1171.4 354.7 L1181.5 346.4 L1191.5 339.7 L1201.6 335.5 L1211.6 332.1 L1221.7 327.1 L1228.4 321.2 L1235.1 315.4 L1245.2 309.5 L1258.6 302.8 L1260 304.1 L1268.4 299.5 L1276.8 292.8 L1285.1 286.9 L1293.5 281.9 L1300.2 279.4 L1306.9 278.9 L1314.5 278.5 L1322.8 279.8 L1331.2 281 L1338.7 282.3 L1343.8 280.2 L1348 277.7 L1352.1 276 L1359.1 272.1 L1372.5 267.1 L1388 263.4 L1396.4 261.7 L1404.8 260.8 L1408.9 260 L1414.4 254.6 L1422.8 252 L1432.8 251.2 L1442.9 251.2 L1452.9 253.7 L1466.3 257.9 L1470.1 260 L1478.5 261.3 L1488.5 260.4 L1496.9 261.3 L1505.3 262.5 L1516 264.2 L1518.3 263.8 L1528 262.9" stroke="#e040fb" stroke-width="2"/>
<g shape-rendering="crispEdges">
<rect class="g" x="0" y="107" width="1" height="15"/>
<rect class="g" x="-1" y="110" width="3" height="11"/>
<rect class="w" x="5" y="95" width="1" height="33"/>
<rect class="w" x="4" y="109" width="3" height="11"/>
<rect class="w" x="10" y="105" width="1" height="14"/>
<rect class="w" x="9" y="106" width="3" height="4"/>
<rect class="g" x="15" y="102" width="1" height="16"/>
<rect class="g" x="14" y="106" width="3" height="11"/>
<rect class="w" x="19" y="103" width="1" height="19"/>
<rect class="w" x="18" y="105" width="3" height="12"/>
<rect class="w" x="24" y="100" width="1" height="12"/>
<rect class="w" x="23" y="101" width="3" height="5"/>
<rect class="w" x="29" y="96" width="1" height="18"/>
<rect class="w" x="28" y="97" width="3" height="5"/>
<rect class="g" x="34" y="81" width="1" height="19"/>
<rect class="g" x="33" y="92" width="3" height="6"/>
<rect class="w" x="39" y="88" width="1" height="12"/>
<rect class="w" x="38" y="95" width="3" height="4"/>
<rect class="w" x="44" y="86" width="1" height="15"/>
<rect class="w" x="43" y="89" width="3" height="7"/>
<rect class="w" x="48" y="78" width="1" height="12"/>
<rect class="w" x="47" y="82" width="3" height="8"/>
<rect class="w" x="53" y="61" width="1" height="28"/>
<rect class="w" x="52" y="75" width="3" height="8"/>
<rect class="g" x="58" y="73" width="1" height="14"/>
<rect class="g" x="57" y="74" width="3" height="1"/>
<rect class="g" x="63" y="75" width="1" height="19"/>
<rect class="g" x="62" y="76" width="3" height="9"/>
<rect class="w" x="68" y="77" width="1" height="12"/>
<rect class="w" x="67" y="79" width="3" height="6"/>
<rect class="g" x="73" y="78" width="1" height="15"/>
<rect class="g" x="72" y="79" width="3" height="7"/>
<rect class="g" x="78" y="82" width="1" height="15"/>
<rect class="g" x="77" y="86" width="3" height="11"/>
<rect class="g" x="82" y="95" width="1" height="10"/>
<rect class="g" x="81" y="96" width="3" height="4"/>
<rect class="w" x="87" y="95" width="1" height="11"/>
<rect class="w" x="86" y="96" width="3" height="4"/>
<rect class="g" x="92" y="90" width="1" height="13"/>
<rect class="g" x="91" y="94" width="3" height="5"/>
<rect class="g" x="97" y="95" width="1" height="19"/>
<rect class="g" x="96" y="97" width="3" height="17"/>
<rect class="w" x="102" y="105" width="1" height="16"/>
<rect class="w" x="101" y="106" width="3" height="8"/>
<rect class="g" x="107" y="105" width="1" height="12"/>
<rect class="g" x="106" y="106" width="3" height="6"/>
<rect class="w" x="112" y="107" width="1" height="7"/>
<rect class="w" x="111" y="110" width="3" height="2"/>
<rect class="w" x="116" y="29" width="1" height="82"/>
<rect class="w" x="115" y="55" width="3" height="56"/>
<rect class="g" x="121" y="41" width="1" height="35"/>
<rect class="g" x="120" y="55" width="3" height="1"/>
<rect class="g" x="126" y="55" width="1" height="180"/>
<rect class="g" x="125" y="55" width="3" height="98"/>
<rect class="g" x="131" y="149" width="1" height="14"/>
<rect class="g" x="130" y="153" width="3" height="3"/>
<rect class="g" x="136" y="151" width="1" height="18"/>
<rect class="g" x="135" y="155" width="3" height="3"/>
<rect class="g" x="141" y="154" width="1" height="13"/>
<rect class="g" x="140" y="157" width="3" height="4"/>
<rect class="g" x="144" y="160" width="3" height="32"/>
<rect class="g" x="150" y="189" width="1" height="32"/>
<rect class="g" x="149" y="191" width="3" height="12"/>
<rect class="g" x="155" y="193" width="1" height="22"/>
<rect class="g" x="154" y="202" width="3" height="2"/>
<rect class="g" x="160" y="202" width="1" height="12"/>
<rect class="g" x="159" y="203" width="3" height="8"/>
<rect class="w" x="165" y="201" width="1" height="15"/>
<rect class="w" x="164" y="207" width="3" height="5"/>
<rect class="w" x="170" y="202" width="1" height="17"/>
<rect class="w" x="169" y="206" width="3" height="2"/>
<rect class="w" x="175" y="203" width="1" height="8"/>
<rect class="w" x="174" y="205" width="3" height="1"/>
<rect class="g" x="179" y="195" width="1" height="19"/>
<rect class="g" x="178" y="205" width="3" height="8"/>
<rect class="w" x="184" y="193" width="1" height="22"/>
<rect class="w" x="183" y="197" width="3" height="17"/>
<rect class="g" x="189" y="193" width="1" height="14"/>
<rect class="g" x="188" y="197" width="3" height="1"/>
<rect class="g" x="194" y="196" width="1" height="12"/>
<rect class="g" x="193" y="197" width="3" height="10"/>
<rect class="g" x="199" y="203" width="1" height="34"/>
<rect class="g" x="198" y="206" width="3" height="30"/>
<rect class="w" x="204" y="205" width="1" height="31"/>
<rect class="w" x="203" y="210" width="3" height="26"/>
<rect class="w" x="209" y="188" width="1" height="42"/>
<rect class="w" x="208" y="199" width="3" height="13"/>
<rect class="w" x="213" y="178" width="1" height="32"/>
<rect class="w" x="212" y="190" width="3" height="9"/>
<rect class="g" x="218" y="185" width="1" height="10"/>
<rect class="g" x="217" y="190" width="3" height="4"/>
<rect class="g" x="223" y="183" width="1" height="69"/>
<rect class="g" x="222" y="194" width="3" height="27"/>
<rect class="g" x="228" y="220" width="1" height="32"/>
<rect class="g" x="227" y="220" width="3" height="23"/>
<rect class="g" x="233" y="238" width="1" height="33"/>
<rect class="g" x="232" y="242" width="3" height="25"/>
<rect class="g" x="238" y="259" width="1" height="39"/>
<rect class="g" x="237" y="266" width="3" height="24"/>
<rect class="w" x="242" y="269" width="1" height="28"/>
<rect class="w" x="241" y="273" width="3" height="17"/>
<rect class="g" x="247" y="268" width="1" height="12"/>
<rect class="g" x="246" y="273" width="3" height="7"/>
<rect class="w" x="252" y="217" width="1" height="84"/>
<rect class="w" x="251" y="264" width="3" height="16"/>
<rect class="w" x="257" y="253" width="1" height="23"/>
<rect class="w" x="256" y="261" width="3" height="4"/>
<rect class="g" x="262" y="252" width="1" height="24"/>
<rect class="g" x="261" y="261" width="3" height="15"/>
<rect class="w" x="267" y="213" width="1" height="59"/>
<rect class="w" x="266" y="223" width="3" height="48"/>
<rect class="g" x="272" y="215" width="1" height="48"/>
<rect class="g" x="271" y="221" width="3" height="37"/>
<rect class="w" x="276" y="235" width="1" height="26"/>
<rect class="w" x="275" y="243" width="3" height="15"/>
<rect class="g" x="281" y="241" width="1" height="52"/>
<rect class="g" x="280" y="243" width="3" height="36"/>
<rect class="w" x="286" y="271" width="1" height="15"/>
<rect class="w" x="285" y="278" width="3" height="1"/>
<rect class="g" x="291" y="276" width="1" height="18"/>
<rect class="g" x="290" y="277" width="3" height="17"/>
<rect class="g" x="296" y="283" width="1" height="29"/>
<rect class="g" x="295" y="293" width="3" height="17"/>
<rect class="w" x="301" y="290" width="1" height="24"/>
<rect class="w" x="300" y="303" width="3" height="8"/>
<rect class="w" x="305" y="300" width="1" height="13"/>
<rect class="w" x="304" y="301" width="3" height="3"/>
<rect class="w" x="310" y="298" width="1" height="20"/>
<rect class="w" x="309" y="301" width="3" height="1"/>
<rect class="g" x="315" y="294" width="1" height="12"/>
<rect class="g" x="314" y="301" width="3" height="4"/>
<rect class="w" x="320" y="300" width="1" height="9"/>
<rect class="w" x="319" y="303" width="3" height="1"/>
<rect class="g" x="325" y="296" width="1" height="28"/>
<rect class="g" x="324" y="303" width="3" height="20"/>
<rect class="g" x="330" y="321" width="1" height="50"/>
<rect class="g" x="329" y="321" width="3" height="34"/>
<rect class="w" x="335" y="326" width="1" height="29"/>
<rect class="w" x="334" y="346" width="3" height="9"/>
<rect class="w" x="339" y="344" width="1" height="11"/>
<rect class="w" x="338" y="345" width="3" height="1"/>
<rect class="g" x="344" y="339" width="1" height="13"/>
<rect class="g" x="343" y="345" width="3" height="5"/>
<rect class="g" x="349" y="344" width="1" height="21"/>
<rect class="g" x="348" y="348" width="3" height="5"/>
<rect class="w" x="354" y="345" width="1" height="15"/>
<rect class="w" x="353" y="350" width="3" height="3"/>
<rect class="g" x="359" y="347" width="1" height="21"/>
<rect class="g" x="358" y="350" width="3" height="13"/>
<rect class="g" x="364" y="358" width="1" height="14"/>
<rect class="g" x="363" y="362" width="3" height="1"/>
<rect class="g" x="369" y="358" width="1" height="12"/>
<rect class="g" x="368" y="363" width="3" height="1"/>
<rect class="w" x="373" y="353" width="1" height="17"/>
<rect class="w" x="372" y="357" width="3" height="8"/>
<rect class="g" x="378" y="351" width="1" height="13"/>
<rect class="g" x="377" y="357" width="3" height="4"/>
<rect class="w" x="383" y="337" width="1" height="24"/>
<rect class="w" x="382" y="342" width="3" height="19"/>
<rect class="w" x="388" y="319" width="1" height="29"/>
<rect class="w" x="387" y="325" width="3" height="18"/>
<rect class="w" x="393" y="315" width="1" height="22"/>
<rect class="w" x="392" y="319" width="3" height="7"/>
<rect class="g" x="398" y="313" width="1" height="35"/>
<rect class="g" x="397" y="319" width="3" height="29"/>
<rect class="g" x="402" y="335" width="1" height="27"/>
<rect class="g" x="401" y="346" width="3" height="13"/>
<rect class="g" x="407" y="353" width="1" height="30"/>
<rect class="g" x="406" y="357" width="3" height="24"/>
<rect class="g" x="412" y="374" width="1" height="23"/>
<rect class="g" x="411" y="380" width="3" height="13"/>
<rect class="w" x="417" y="358" width="1" height="59"/>
<rect class="w" x="416" y="368" width="3" height="25"/>
<rect class="g" x="422" y="367" width="1" height="19"/>
<rect class="g" x="421" y="368" width="3" height="16"/>
<rect class="g" x="427" y="380" width="1" height="112"/>
<rect class="g" x="426" y="383" width="3" height="63"/>
<rect class="w" x="432" y="431" width="1" height="19"/>
<rect class="w" x="431" y="436" width="3" height="10"/>
<rect class="g" x="436" y="426" width="1" height="35"/>
<rect class="g" x="435" y="436" width="3" height="14"/>
<rect class="g" x="441" y="443" width="1" height="33"/>
<rect class="g" x="440" y="449" width="3" height="6"/>
<rect class="w" x="446" y="453" width="1" height="23"/>
<rect class="w" x="445" y="454" width="3" height="1"/>
<rect class="w" x="451" y="436" width="1" height="22"/>
<rect class="w" x="450" y="448" width="3" height="7"/>
<rect class="w" x="456" y="427" width="1" height="29"/>
<rect class="w" x="455" y="434" width="3" height="15"/>
<rect class="w" x="461" y="418" width="1" height="18"/>
<rect class="w" x="460" y="430" width="3" height="5"/>
<rect class="g" x="465" y="428" width="1" height="22"/>
<rect class="g" x="464" y="430" width="3" height="14"/>
<rect class="w" x="470" y="425" width="1" height="23"/>
<rect class="w" x="469" y="442" width="3" height="1"/>
<rect class="w" x="475" y="424" width="1" height="22"/>
<rect class="w" x="474" y="430" width="3" height="13"/>
<rect class="w" x="480" y="416" width="1" height="16"/>
<rect class="w" x="479" y="425" width="3" height="6"/>
<rect class="w" x="485" y="404" width="1" height="24"/>
<rect class="w" x="484" y="409" width="3" height="17"/>
<rect class="w" x="490" y="393" width="1" height="24"/>
<rect class="w" x="489" y="400" width="3" height="10"/>
<rect class="w" x="495" y="392" width="1" height="18"/>
<rect class="w" x="494" y="398" width="3" height="9"/>
<rect class="g" x="499" y="396" width="1" height="37"/>
<rect class="g" x="498" y="399" width="3" height="33"/>
<rect class="w" x="504" y="421" width="1" height="19"/>
<rect class="w" x="503" y="426" width="3" height="6"/>
<rect class="g" x="509" y="424" width="1" height="12"/>
<rect class="g" x="508" y="426" width="3" height="9"/>
<rect class="g" x="514" y="427" width="1" height="20"/>
<rect class="g" x="513" y="435" width="3" height="8"/>
<rect class="g" x="519" y="434" width="1" height="16"/>
<rect class="g" x="518" y="441" width="3" height="5"/>
<rect class="w" x="524" y="432" width="1" height="25"/>
<rect class="w" x="523" y="435" width="3" height="11"/>
<rect class="w" x="529" y="427" width="1" height="23"/>
<rect class="w" x="528" y="431" width="3" height="5"/>
<rect class="w" x="533" y="428" width="1" height="20"/>
<rect class="w" x="532" y="431" width="3" height="1"/>
<rect class="w" x="538" y="416" width="1" height="16"/>
<rect class="w" x="537" y="424" width="3" height="8"/>
<rect class="g" x="543" y="424" width="1" height="13"/>
<rect class="g" x="542" y="424" width="3" height="8"/>
<rect class="g" x="548" y="429" width="1" height="12"/>
<rect class="g" x="547" y="431" width="3" height="9"/>
<rect class="w" x="553" y="430" width="1" height="14"/>
<rect class="w" x="552" y="438" width="3" height="2"/>
<rect class="w" x="558" y="428" width="1" height="11"/>
<rect class="w" x="557" y="433" width="3" height="6"/>
<rect class="g" x="562" y="428" width="1" height="10"/>
<rect class="g" x="561" y="432" width="3" height="5"/>
<rect class="g" x="567" y="435" width="1" height="8"/>
<rect class="g" x="566" y="436" width="3" height="6"/>
<rect class="w" x="572" y="427" width="1" height="16"/>
<rect class="w" x="571" y="430" width="3" height="12"/>
<rect class="g" x="577" y="428" width="1" height="13"/>
<rect class="g" x="576" y="430" width="3" height="6"/>
<rect class="g" x="582" y="433" width="1" height="13"/>
<rect class="g" x="581" y="435" width="3" height="11"/>
<rect class="g" x="587" y="444" width="1" height="22"/>
<rect class="g" x="586" y="445" width="3" height="18"/>
<rect class="w" x="592" y="456" width="1" height="16"/>
<rect class="w" x="591" y="459" width="3" height="4"/>
<rect class="g" x="596" y="459" width="1" height="15"/>
<rect class="g" x="595" y="459" width="3" height="9"/>
<rect class="w" x="601" y="462" width="1" height="10"/>
<rect class="w" x="600" y="467" width="3" height="1"/>
<rect class="g" x="606" y="466" width="1" height="24"/>
<rect class="g" x="605" y="467" width="3" height="13"/>
<rect class="w" x="611" y="464" width="1" height="36"/>
<rect class="w" x="610" y="471" width="3" height="9"/>
<rect class="g" x="616" y="461" width="1" height="24"/>
<rect class="g" x="615" y="471" width="3" height="11"/>
<rect class="w" x="621" y="467" width="1" height="17"/>
<rect class="w" x="620" y="478" width="3" height="5"/>
<rect class="w" x="626" y="450" width="1" height="40"/>
<rect class="w" x="625" y="456" width="3" height="23"/>
<rect class="w" x="630" y="440" width="1" height="20"/>
<rect class="w" x="629" y="447" width="3" height="10"/>
<rect class="g" x="635" y="441" width="1" height="10"/>
<rect class="g" x="634" y="447" width="3" height="4"/>
<rect class="w" x="640" y="439" width="1" height="20"/>
<rect class="w" x="639" y="443" width="3" height="8"/>
<rect class="w" x="645" y="426" width="1" height="18"/>
<rect class="w" x="644" y="430" width="3" height="14"/>
<rect class="g" x="650" y="425" width="1" height="10"/>
<rect class="g" x="649" y="430" width="3" height="1"/>
<rect class="g" x="655" y="430" width="1" height="7"/>
<rect class="g" x="654" y="431" width="3" height="2"/>
<rect class="g" x="659" y="425" width="1" height="15"/>
<rect class="g" x="658" y="433" width="3" height="4"/>
<rect class="w" x="664" y="433" width="1" height="12"/>
<rect class="w" x="663" y="435" width="3" height="1"/>
<rect class="g" x="669" y="431" width="1" height="11"/>
<rect class="g" x="668" y="435" width="3" height="1"/>
<rect class="g" x="674" y="428" width="1" height="19"/>
<rect class="g" x="673" y="436" width="3" height="8"/>
<rect class="w" x="679" y="439" width="1" height="14"/>
<rect class="w" x="678" y="440" width="3" height="4"/>
<rect class="g" x="684" y="434" width="1" height="16"/>
<rect class="g" x="683" y="440" width="3" height="8"/>
<rect class="g" x="689" y="447" width="1" height="8"/>
<rect class="g" x="688" y="447" width="3" height="5"/>
<rect class="g" x="693" y="449" width="1" height="11"/>
<rect class="g" x="692" y="450" width="3" height="9"/>
<rect class="w" x="698" y="442" width="1" height="17"/>
<rect class="w" x="697" y="447" width="3" height="12"/>
<rect class="w" x="703" y="429" width="1" height="20"/>
<rect class="w" x="702" y="441" width="3" height="8"/>
<rect class="w" x="708" y="434" width="1" height="11"/>
<rect class="w" x="707" y="437" width="3" height="4"/>
<rect class="w" x="713" y="434" width="1" height="4"/>
<rect class="w" x="712" y="436" width="3" height="1"/>
<rect class="g" x="718" y="431" width="1" height="12"/>
<rect class="g" x="717" y="436" width="3" height="4"/>
<rect class="g" x="722" y="437" width="1" height="11"/>
<rect class="g" x="721" y="438" width="3" height="5"/>
<rect class="w" x="727" y="432" width="1" height="14"/>
<rect class="w" x="726" y="435" width="3" height="10"/>
<rect class="g" x="732" y="431" width="1" height="17"/>
<rect class="g" x="731" y="436" width="3" height="6"/>
<rect class="g" x="737" y="439" width="1" height="17"/>
<rect class="g" x="736" y="441" width="3" height="13"/>
<rect class="g" x="742" y="452" width="1" height="17"/>
<rect class="g" x="741" y="453" width="3" height="14"/>
<rect class="w" x="747" y="453" width="1" height="16"/>
<rect class="w" x="746" y="454" width="3" height="13"/>
<rect class="g" x="752" y="454" width="1" height="8"/>
<rect class="g" x="751" y="454" width="3" height="6"/>
<rect class="w" x="756" y="454" width="1" height="8"/>
<rect class="w" x="755" y="457" width="3" height="3"/>
<rect class="w" x="761" y="454" width="1" height="11"/>
<rect class="w" x="760" y="455" width="3" height="2"/>
<rect class="g" x="766" y="454" width="1" height="9"/>
<rect class="g" x="765" y="455" width="3" height="5"/>
<rect class="g" x="771" y="458" width="1" height="7"/>
<rect class="g" x="770" y="460" width="3" height="4"/>
<rect class="g" x="776" y="460" width="1" height="15"/>
<rect class="g" x="775" y="463" width="3" height="11"/>
<rect class="w" x="781" y="450" width="1" height="26"/>
<rect class="w" x="780" y="456" width="3" height="19"/>
<rect class="g" x="786" y="452" width="1" height="8"/>
<rect class="g" x="785" y="456" width="3" height="4"/>
<rect class="w" x="790" y="456" width="1" height="6"/>
<rect class="w" x="789" y="457" width="3" height="3"/>
<rect class="w" x="795" y="451" width="1" height="10"/>
<rect class="w" x="794" y="455" width="3" height="3"/>
<rect class="w" x="800" y="440" width="1" height="18"/>
<rect class="w" x="799" y="443" width="3" height="13"/>
<rect class="w" x="805" y="427" width="1" height="19"/>
<rect class="w" x="804" y="440" width="3" height="4"/>
<rect class="w" x="810" y="429" width="1" height="11"/>
<rect class="w" x="809" y="432" width="3" height="4"/>
<rect class="g" x="815" y="436" width="1" height="14"/>
<rect class="g" x="814" y="437" width="3" height="11"/>
<rect class="w" x="819" y="439" width="1" height="11"/>
<rect class="w" x="818" y="443" width="3" height="5"/>
<rect class="w" x="824" y="431" width="1" height="14"/>
<rect class="w" x="823" y="437" width="3" height="7"/>
<rect class="g" x="829" y="436" width="1" height="17"/>
<rect class="g" x="828" y="437" width="3" height="16"/>
<rect class="w" x="834" y="445" width="1" height="17"/>
<rect class="w" x="833" y="451" width="3" height="2"/>
<rect class="g" x="839" y="449" width="1" height="12"/>
<rect class="g" x="838" y="451" width="3" height="10"/>
<rect class="w" x="844" y="454" width="1" height="9"/>
<rect class="w" x="843" y="456" width="3" height="5"/>
<rect class="g" x="849" y="450" width="1" height="18"/>
<rect class="g" x="848" y="456" width="3" height="11"/>
<rect class="w" x="853" y="457" width="1" height="13"/>
<rect class="w" x="852" y="465" width="3" height="2"/>
<rect class="g" x="858" y="462" width="1" height="9"/>
<rect class="g" x="857" y="465" width="3" height="5"/>
<rect class="g" x="863" y="467" width="1" height="25"/>
<rect class="g" x="862" y="469" width="3" height="16"/>
<rect class="w" x="868" y="479" width="1" height="9"/>
<rect class="w" x="867" y="483" width="3" height="1"/>
<rect class="g" x="873" y="480" width="1" height="19"/>
<rect class="g" x="872" y="482" width="3" height="7"/>
<rect class="g" x="878" y="481" width="1" height="16"/>
<rect class="g" x="877" y="488" width="3" height="5"/>
<rect class="g" x="882" y="489" width="1" height="24"/>
<rect class="g" x="881" y="493" width="3" height="15"/>
<rect class="g" x="887" y="503" width="1" height="19"/>
<rect class="g" x="886" y="505" width="3" height="11"/>
<rect class="g" x="892" y="515" width="1" height="42"/>
<rect class="g" x="891" y="515" width="3" height="21"/>
<rect class="g" x="897" y="530" width="1" height="18"/>
<rect class="g" x="896" y="535" width="3" height="12"/>
<rect class="g" x="902" y="540" width="1" height="15"/>
<rect class="g" x="901" y="546" width="3" height="4"/>
<rect class="g" x="907" y="545" width="1" height="25"/>
<rect class="g" x="906" y="549" width="3" height="3"/>
<rect class="g" x="912" y="550" width="1" height="14"/>
<rect class="g" x="911" y="551" width="3" height="4"/>
<rect class="g" x="916" y="547" width="1" height="31"/>
<rect class="g" x="915" y="555" width="3" height="17"/>
<rect class="g" x="921" y="570" width="1" height="71"/>
<rect class="g" x="920" y="571" width="3" height="65"/>
<rect class="w" x="926" y="607" width="1" height="38"/>
<rect class="w" x="925" y="613" width="3" height="23"/>
<rect class="w" x="931" y="588" width="1" height="42"/>
<rect class="w" x="930" y="588" width="3" height="26"/>
<rect class="w" x="936" y="560" width="1" height="36"/>
<rect class="w" x="935" y="560" width="3" height="29"/>
<rect class="g" x="941" y="553" width="1" height="21"/>
<rect class="g" x="940" y="560" width="3" height="10"/>
<rect class="w" x="946" y="555" width="1" height="17"/>
<rect class="w" x="945" y="559" width="3" height="11"/>
<rect class="g" x="950" y="541" width="1" height="28"/>
<rect class="g" x="949" y="559" width="3" height="7"/>
<rect class="w" x="955" y="540" width="1" height="30"/>
<rect class="w" x="954" y="541" width="3" height="25"/>
<rect class="w" x="960" y="519" width="1" height="29"/>
<rect class="w" x="959" y="540" width="3" height="2"/>
<rect class="w" x="965" y="523" width="1" height="28"/>
<rect class="w" x="964" y="528" width="3" height="13"/>
<rect class="w" x="970" y="507" width="1" height="25"/>
<rect class="w" x="969" y="509" width="3" height="20"/>
<rect class="w" x="975" y="495" width="1" height="18"/>
<rect class="w" x="974" y="499" width="3" height="11"/>
<rect class="w" x="979" y="487" width="1" height="26"/>
<rect class="w" x="978" y="494" width="3" height="2"/>
<rect class="g" x="984" y="492" width="1" height="21"/>
<rect class="g" x="983" y="495" width="3" height="11"/>
<rect class="g" x="989" y="502" width="1" height="15"/>
<rect class="g" x="988" y="505" width="3" height="10"/>
<rect class="g" x="994" y="508" width="1" height="37"/>
<rect class="g" x="993" y="514" width="3" height="28"/>
<rect class="w" x="999" y="525" width="1" height="18"/>
<rect class="w" x="998" y="527" width="3" height="16"/>
<rect class="g" x="1004" y="532" width="1" height="22"/>
<rect class="g" x="1003" y="532" width="3" height="18"/>
<rect class="g" x="1009" y="546" width="1" height="30"/>
<rect class="g" x="1008" y="550" width="3" height="5"/>
<rect class="g" x="1013" y="547" width="1" height="21"/>
<rect class="g" x="1012" y="555" width="3" height="4"/>
<rect class="w" x="1018" y="512" width="1" height="48"/>
<rect class="w" x="1017" y="528" width="3" height="31"/>
<rect class="g" x="1023" y="527" width="1" height="33"/>
<rect class="g" x="1022" y="532" width="3" height="17"/>
<rect class="g" x="1028" y="542" width="1" height="15"/>
<rect class="g" x="1027" y="548" width="3" height="6"/>
<rect class="g" x="1033" y="550" width="1" height="14"/>
<rect class="g" x="1032" y="553" width="3" height="6"/>
<rect class="w" x="1038" y="543" width="1" height="22"/>
<rect class="w" x="1037" y="547" width="3" height="12"/>
<rect class="w" x="1042" y="528" width="1" height="21"/>
<rect class="w" x="1041" y="539" width="3" height="8"/>
<rect class="w" x="1047" y="529" width="1" height="17"/>
<rect class="w" x="1046" y="532" width="3" height="8"/>
<rect class="w" x="1052" y="522" width="1" height="16"/>
<rect class="w" x="1051" y="526" width="3" height="7"/>
<rect class="g" x="1057" y="521" width="1" height="14"/>
<rect class="g" x="1056" y="525" width="3" height="7"/>
<rect class="w" x="1062" y="517" width="1" height="10"/>
<rect class="w" x="1061" y="523" width="3" height="4"/>
<rect class="g" x="1067" y="523" width="1" height="13"/>
<rect class="g" x="1066" y="523" width="3" height="3"/>
<rect class="w" x="1072" y="510" width="1" height="16"/>
<rect class="w" x="1071" y="522" width="3" height="3"/>
<rect class="w" x="1076" y="517" width="1" height="10"/>
<rect class="w" x="1075" y="520" width="3" height="3"/>
<rect class="g" x="1081" y="516" width="1" height="12"/>
<rect class="g" x="1080" y="521" width="3" height="5"/>
<rect class="g" x="1086" y="518" width="1" height="9"/>
<rect class="g" x="1085" y="524" width="3" height="2"/>
<rect class="w" x="1091" y="525" width="1" height="7"/>
<rect class="w" x="1090" y="525" width="3" height="1"/>
<rect class="g" x="1096" y="515" width="1" height="18"/>
<rect class="g" x="1095" y="525" width="3" height="7"/>
<rect class="w" x="1101" y="515" width="1" height="13"/>
<rect class="w" x="1100" y="516" width="3" height="11"/>
<rect class="w" x="1106" y="490" width="1" height="29"/>
<rect class="w" x="1105" y="494" width="3" height="23"/>
<rect class="g" x="1110" y="483" width="1" height="28"/>
<rect class="g" x="1109" y="494" width="3" height="16"/>
<rect class="w" x="1115" y="494" width="1" height="25"/>
<rect class="w" x="1114" y="509" width="3" height="1"/>
<rect class="g" x="1120" y="505" width="1" height="14"/>
<rect class="g" x="1119" y="509" width="3" height="4"/>
<rect class="g" x="1125" y="500" width="1" height="23"/>
<rect class="g" x="1124" y="513" width="3" height="6"/>
<rect class="g" x="1130" y="516" width="1" height="14"/>
<rect class="g" x="1129" y="519" width="3" height="8"/>
<rect class="g" x="1135" y="524" width="1" height="15"/>
<rect class="g" x="1134" y="526" width="3" height="11"/>
<rect class="w" x="1139" y="517" width="1" height="24"/>
<rect class="w" x="1138" y="519" width="3" height="18"/>
<rect class="w" x="1144" y="508" width="1" height="15"/>
<rect class="w" x="1143" y="518" width="3" height="2"/>
<rect class="w" x="1149" y="514" width="1" height="9"/>
<rect class="w" x="1148" y="516" width="3" height="3"/>
<rect class="w" x="1154" y="493" width="1" height="24"/>
<rect class="w" x="1153" y="495" width="3" height="22"/>
<rect class="w" x="1159" y="440" width="1" height="56"/>
<rect class="w" x="1158" y="446" width="3" height="50"/>
<rect class="g" x="1164" y="439" width="1" height="30"/>
<rect class="g" x="1163" y="445" width="3" height="6"/>
<rect class="w" x="1169" y="435" width="1" height="28"/>
<rect class="w" x="1168" y="440" width="3" height="5"/>
<rect class="w" x="1173" y="428" width="1" height="8"/>
<rect class="w" x="1172" y="430" width="3" height="3"/>
<rect class="w" x="1178" y="410" width="1" height="28"/>
<rect class="w" x="1177" y="419" width="3" height="12"/>
<rect class="w" x="1183" y="378" width="1" height="43"/>
<rect class="w" x="1182" y="381" width="3" height="38"/>
<rect class="g" x="1188" y="371" width="1" height="25"/>
<rect class="g" x="1187" y="382" width="3" height="4"/>
<rect class="w" x="1193" y="371" width="1" height="22"/>
<rect class="w" x="1192" y="389" width="3" height="2"/>
<rect class="g" x="1198" y="387" width="1" height="21"/>
<rect class="g" x="1197" y="390" width="3" height="14"/>
<rect class="g" x="1203" y="398" width="1" height="17"/>
<rect class="g" x="1202" y="404" width="3" height="6"/>
<rect class="w" x="1207" y="394" width="1" height="16"/>
<rect class="w" x="1206" y="404" width="3" height="6"/>
<rect class="w" x="1212" y="361" width="1" height="44"/>
<rect class="w" x="1211" y="386" width="3" height="19"/>
<rect class="w" x="1217" y="376" width="1" height="16"/>
<rect class="w" x="1216" y="385" width="3" height="2"/>
<rect class="w" x="1222" y="363" width="1" height="27"/>
<rect class="w" x="1221" y="366" width="3" height="20"/>
<rect class="w" x="1227" y="325" width="1" height="42"/>
<rect class="w" x="1226" y="346" width="3" height="20"/>
<rect class="w" x="1232" y="295" width="1" height="51"/>
<rect class="w" x="1231" y="324" width="3" height="22"/>
<rect class="w" x="1236" y="308" width="1" height="27"/>
<rect class="w" x="1235" y="310" width="3" height="15"/>
<rect class="g" x="1241" y="299" width="1" height="34"/>
<rect class="g" x="1240" y="310" width="3" height="4"/>
<rect class="g" x="1246" y="306" width="1" height="44"/>
<rect class="g" x="1245" y="313" width="3" height="22"/>
<rect class="g" x="1251" y="329" width="1" height="19"/>
<rect class="g" x="1250" y="333" width="3" height="5"/>
<rect class="w" x="1256" y="312" width="1" height="34"/>
<rect class="w" x="1255" y="320" width="3" height="17"/>
<rect class="g" x="1261" y="312" width="1" height="20"/>
<rect class="g" x="1260" y="320" width="3" height="2"/>
<rect class="w" x="1266" y="299" width="1" height="33"/>
<rect class="w" x="1265" y="318" width="3" height="4"/>
<rect class="w" x="1270" y="302" width="1" height="24"/>
<rect class="w" x="1269" y="309" width="3" height="10"/>
<rect class="w" x="1275" y="260" width="1" height="53"/>
<rect class="w" x="1274" y="285" width="3" height="24"/>
<rect class="g" x="1280" y="265" width="1" height="31"/>
<rect class="g" x="1279" y="284" width="3" height="4"/>
<rect class="w" x="1285" y="264" width="1" height="32"/>
<rect class="w" x="1284" y="280" width="3" height="8"/>
<rect class="w" x="1290" y="256" width="1" height="52"/>
<rect class="w" x="1289" y="267" width="3" height="14"/>
<rect class="w" x="1295" y="246" width="1" height="26"/>
<rect class="w" x="1294" y="264" width="3" height="5"/>
<rect class="g" x="1299" y="246" width="1" height="38"/>
<rect class="g" x="1298" y="264" width="3" height="15"/>
<rect class="g" x="1304" y="277" width="1" height="27"/>
<rect class="g" x="1303" y="278" width="3" height="25"/>
<rect class="w" x="1309" y="288" width="1" height="18"/>
<rect class="w" x="1308" y="293" width="3" height="10"/>
<rect class="g" x="1314" y="281" width="1" height="39"/>
<rect class="g" x="1313" y="293" width="3" height="27"/>
<rect class="w" x="1319" y="309" width="1" height="17"/>
<rect class="w" x="1318" y="314" width="3" height="5"/>
<rect class="w" x="1324" y="305" width="1" height="15"/>
<rect class="w" x="1323" y="314" width="3" height="1"/>
<rect class="g" x="1329" y="311" width="1" height="25"/>
<rect class="g" x="1328" y="314" width="3" height="3"/>
<rect class="g" x="1333" y="314" width="1" height="24"/>
<rect class="g" x="1332" y="316" width="3" height="21"/>
<rect class="w" x="1338" y="326" width="1" height="17"/>
<rect class="w" x="1337" y="334" width="3" height="3"/>
<rect class="w" x="1343" y="279" width="1" height="57"/>
<rect class="w" x="1342" y="288" width="3" height="47"/>
<rect class="w" x="1348" y="264" width="1" height="26"/>
<rect class="w" x="1347" y="281" width="3" height="8"/>
<rect class="w" x="1353" y="265" width="1" height="22"/>
<rect class="w" x="1352" y="273" width="3" height="9"/>
<rect class="w" x="1358" y="244" width="1" height="36"/>
<rect class="w" x="1357" y="256" width="3" height="17"/>
<rect class="g" x="1363" y="231" width="1" height="42"/>
<rect class="g" x="1362" y="256" width="3" height="17"/>
<rect class="w" x="1367" y="253" width="1" height="30"/>
<rect class="w" x="1366" y="264" width="3" height="9"/>
<rect class="g" x="1372" y="264" width="1" height="15"/>
<rect class="g" x="1371" y="264" width="3" height="4"/>
<rect class="w" x="1377" y="256" width="1" height="17"/>
<rect class="w" x="1376" y="264" width="3" height="3"/>
<rect class="w" x="1382" y="256" width="1" height="19"/>
<rect class="w" x="1381" y="257" width="3" height="8"/>
<rect class="g" x="1387" y="254" width="1" height="16"/>
<rect class="g" x="1386" y="257" width="3" height="8"/>
<rect class="g" x="1392" y="258" width="1" height="19"/>
<rect class="g" x="1391" y="264" width="3" height="12"/>
<rect class="w" x="1396" y="258" width="1" height="18"/>
<rect class="w" x="1395" y="266" width="3" height="10"/>
<rect class="g" x="1401" y="263" width="1" height="24"/>
<rect class="g" x="1400" y="266" width="3" height="6"/>
<rect class="w" x="1406" y="252" width="1" height="41"/>
<rect class="w" x="1405" y="263" width="3" height="9"/>
<rect class="w" x="1411" y="214" width="1" height="52"/>
<rect class="w" x="1410" y="224" width="3" height="41"/>
<rect class="g" x="1416" y="201" width="1" height="46"/>
<rect class="g" x="1415" y="224" width="3" height="20"/>
<rect class="g" x="1421" y="235" width="1" height="27"/>
<rect class="g" x="1420" y="243" width="3" height="14"/>
<rect class="w" x="1426" y="248" width="1" height="12"/>
<rect class="w" x="1425" y="251" width="3" height="6"/>
<rect class="g" x="1430" y="249" width="1" height="24"/>
<rect class="g" x="1429" y="251" width="3" height="11"/>
<rect class="w" x="1435" y="241" width="1" height="22"/>
<rect class="w" x="1434" y="245" width="3" height="17"/>
<rect class="g" x="1440" y="242" width="1" height="37"/>
<rect class="g" x="1439" y="245" width="3" height="33"/>
<rect class="g" x="1445" y="264" width="1" height="18"/>
<rect class="g" x="1444" y="273" width="3" height="9"/>
<rect class="g" x="1450" y="280" width="1" height="29"/>
<rect class="g" x="1449" y="281" width="3" height="25"/>
<rect class="w" x="1455" y="285" width="1" height="23"/>
<rect class="w" x="1454" y="295" width="3" height="13"/>
<rect class="g" x="1459" y="287" width="1" height="23"/>
<rect class="g" x="1458" y="296" width="3" height="12"/>
<rect class="g" x="1464" y="305" width="1" height="25"/>
<rect class="g" x="1463" y="307" width="3" height="1"/>
<rect class="g" x="1469" y="305" width="1" height="25"/>
<rect class="g" x="1468" y="306" width="3" height="13"/>
<rect class="w" x="1474" y="303" width="1" height="19"/>
<rect class="w" x="1473" y="306" width="3" height="13"/>
<rect class="g" x="1479" y="305" width="1" height="16"/>
<rect class="g" x="1478" y="306" width="3" height="4"/>
<rect class="w" x="1484" y="276" width="1" height="33"/>
<rect class="w" x="1483" y="285" width="3" height="23"/>
<rect class="g" x="1489" y="278" width="1" height="30"/>
<rect class="g" x="1488" y="285" width="3" height="19"/>
<rect class="g" x="1493" y="296" width="1" height="20"/>
<rect class="g" x="1492" y="303" width="3" height="9"/>
<rect class="g" x="1498" y="307" width="1" height="29"/>
<rect class="g" x="1497" y="311" width="3" height="19"/>
<rect class="g" x="1503" y="302" width="1" height="43"/>
<rect class="g" x="1502" y="329" width="3" height="13"/>
<rect class="w" x="1508" y="306" width="1" height="38"/>
<rect class="w" x="1507" y="326" width="3" height="16"/>
<rect class="w" x="1513" y="312" width="1" height="20"/>
<rect class="w" x="1512" y="318" width="3" height="9"/>
<rect class="g" x="1518" y="310" width="1" height="29"/>
<rect class="g" x="1517" y="318" width="3" height="9"/>
<rect class="w" x="1523" y="300" width="1" height="35"/>
<rect class="w" x="1522" y="324" width="3" height="2"/>
<rect class="w" x="1526" y="293" width="3" height="47"/>
</g>
<circle class="circ" cx="213.6" cy="184.5" r="13.4"/>
<circle class="circ" cx="262.5" cy="210.5" r="23.4"/>
<circle class="circ" cx="393.4" cy="318.4" r="13.3"/>
<circle class="circ" cx="495.5" cy="392.1" r="13.3"/>
<circle class="circ" cx="805.7" cy="425.4" r="13.3"/>
<circle class="circ" cx="979.6" cy="485.6" r="13.3"/>
<circle class="circ" cx="1018.4" cy="512.5" r="13.3"/>
<circle class="circ" cx="1110.3" cy="493.6" r="13.3"/>
<circle class="circ" cx="1159.3" cy="442.5" r="13.3"/>
<circle class="circ" cx="1188.5" cy="374.3" r="13.3"/>
<path class="ln" d="M160 70.6 L936.9 320.9 M923.4 327.4 L936.9 320.9 L929.7 307.7" stroke="#f23645" stroke-width="2"/>
<path class="ln" d="M954.8 334.6 L1197.6 302.1 M1188.3 313.9 L1197.6 302.1 L1185.5 293.2" stroke="#089981" stroke-width="2"/>
<text transform="translate(470 160) rotate(17.8)" font-family="&quot;Liberation Sans&quot;,&quot;Noto Sans CJK KR&quot;,sans-serif" font-size="20.5" fill="#f23645" letter-spacing="1.15" word-spacing="-0.4" stroke="#f23645" stroke-width="0.45">하락에 따른 역배열</text>
<text transform="translate(967 327) rotate(-7.6)" font-family="&quot;Liberation Sans&quot;,&quot;Noto Sans CJK KR&quot;,sans-serif" font-size="13" fill="#089981" stroke="#089981" stroke-width="0.4">상승에 대한 저항 (배열을 돌리려는 시도)</text>
<text transform="translate(1212.4 180.6) scale(1 0.95)" font-family="&quot;Liberation Sans&quot;,&quot;NanumGothic&quot;,&quot;Noto Sans CJK KR&quot;,sans-serif" font-size="17" fill="#ffffff" letter-spacing="0.03" stroke="#ffffff" stroke-width="0.35">배열을 돌리려는 상승 시도 &amp; 보합상태</text>
</svg>
<div id="axis">
<span style="left:11.1px">4</span>
<span style="left:185.5px">10</span>
<span style="left:272.7px">13</span>
<span style="left:389px">17</span>
<span style="left:476.2px">20</span>
<span style="left:592.5px">24</span>
<span style="left:679.7px">27</span>
<span style="left:796px">7월</span>
<span style="left:883.2px">4</span>
<span style="left:999.4px">8</span>
<span style="left:1086.7px">11</span>
<span style="left:1202.9px">15</span>
<span style="left:1290.1px">18</span>
<span style="left:1406.4px">22</span>
<span style="left:1493.6px">25</span>
</div>
<div id="tag"><b>금 2024-06-07   21:00</b></div>
<div id="foot"></div>
</body></html>
